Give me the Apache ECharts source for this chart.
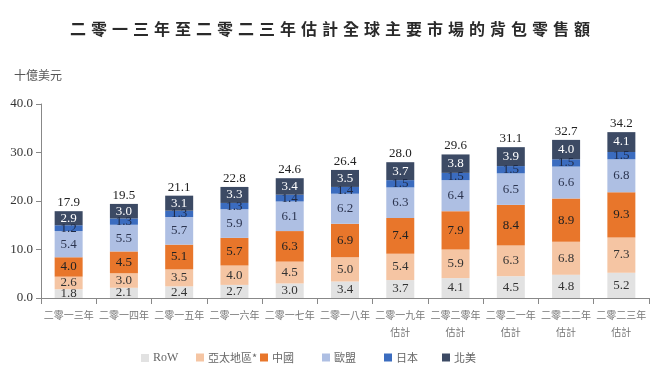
<!DOCTYPE html>
<html><head><meta charset="utf-8">
<script src="https://cdn.jsdelivr.net/npm/echarts@6/dist/echarts.min.js"></script>
<style>html,body{margin:0;padding:0;background:#fff}#c{width:660px;height:368px}</style>
</head><body><div id="c"></div>
<script>
var titleText = '二零一三年至二零二三年估計全球主要市場的背包零售額';
var categories = ['二零一三年','二零一四年','二零一五年','二零一六年','二零一七年','二零一八年','二零一九年\n估計','二零二零年\n估計','二零二一年\n估計','二零二二年\n估計','二零二三年\n估計'];
var seriesNames = ['RoW','亞太地區*','中國','歐盟','日本','北美'];
var rowVals   = [1.8,2.1,2.4,2.7,3.0,3.4,3.7,4.1,4.5,4.8,5.2];
var apacVals  = [2.6,3.0,3.5,4.0,4.5,5.0,5.4,5.9,6.3,6.8,7.3];
var chinaVals = [4.0,4.5,5.1,5.7,6.3,6.9,7.4,7.9,8.4,8.9,9.3];
var euVals    = [5.4,5.5,5.7,5.9,6.1,6.2,6.3,6.4,6.5,6.6,6.8];
var japanVals = [1.2,1.3,1.3,1.3,1.4,1.4,1.5,1.5,1.5,1.5,1.5];
var naVals    = [2.9,3.0,3.1,3.3,3.4,3.5,3.7,3.8,3.9,4.0,4.1];
var totals    = [17.9,19.5,21.1,22.8,24.6,26.4,28.0,29.6,31.1,32.7,34.2];
var yTicks    = [0,10,20,30,40];

var colors = ['#e2e2e2','#f5c5a3','#e8762b','#aebfe3','#3b6cbf','#3c4a64'];
var labelColors = ['#333','#333','#222','#2c3550','#1f2a45','#ffffff'];
var dataSets = [rowVals, apacVals, chinaVals, euVals, japanVals, naVals];
var serif = '"Liberation Serif","DejaVu Serif",serif';
var cjk = '"Noto Sans CJK TC","Noto Sans CJK SC",sans-serif';

var series = seriesNames.map(function(n,i){
  return {
    name:n, type:'bar', stack:'s', barWidth:28,
    itemStyle:{color:colors[i]},
    label:{show:true, position:'inside', formatter:function(p){return p.value.toFixed(1);},
      color:labelColors[i], fontFamily:serif, fontSize:13},
    data:dataSets[i]
  };
});
series.push({
  name:'total', type:'bar', stack:'s', barWidth:28, itemStyle:{color:'transparent'},
  label:{show:true, position:'top', distance:2, formatter:function(p){return totals[p.dataIndex].toFixed(1);},
    color:'#222', fontFamily:serif, fontSize:13},
  data:totals.map(function(){return 0;})
});

var legendLefts = [136,191,255,317,379,437];
var legends = seriesNames.map(function(n,i){
  return {data:[n], left:legendLefts[i], top:347, itemWidth:8, itemHeight:8, itemGap:0,
    icon:'rect', textStyle:{fontFamily: i===0 ? serif : cjk, fontSize: i===0 ? 12 : 11, color:'#666', padding:[0,0,0,-1]}};
});

var titleRich = titleText.split('').map(function(ch){return '{c|'+ch+'}';}).join('');

var chart = echarts.init(document.getElementById('c'), null, {renderer:'canvas'});
chart.setOption({
  animation:false,
  title:{text:titleRich, left:'center', top:16,
    textStyle:{rich:{c:{fontFamily:cjk, fontSize:16, fontWeight:'bold', color:'#2a2a2a', width:21, align:'center'}}}},
  graphic:[{type:'text', left:14, top:69, style:{text:'十億美元', font:'12px '+cjk, fill:'#555'}}],
  legend:legends,
  grid:{left:41, right:11, top:104, bottom:70},
  xAxis:{type:'category', data:categories,
    axisLine:{lineStyle:{color:'#888'}},
    axisTick:{show:true, length:6, lineStyle:{color:'#888'}},
    axisLabel:{fontFamily:cjk, fontSize:10, color:'#777', lineHeight:17, margin:9, interval:0}},
  yAxis:{type:'value', min:0, max:40, interval:10,
    axisLine:{show:true, lineStyle:{color:'#888'}},
    axisTick:{show:true, length:5, lineStyle:{color:'#888'}},
    splitLine:{show:false},
    axisLabel:{fontFamily:serif, fontSize:13, color:'#333', margin:8, formatter:function(v){return v.toFixed(1);}}},
  series:series
});
</script></body></html>
